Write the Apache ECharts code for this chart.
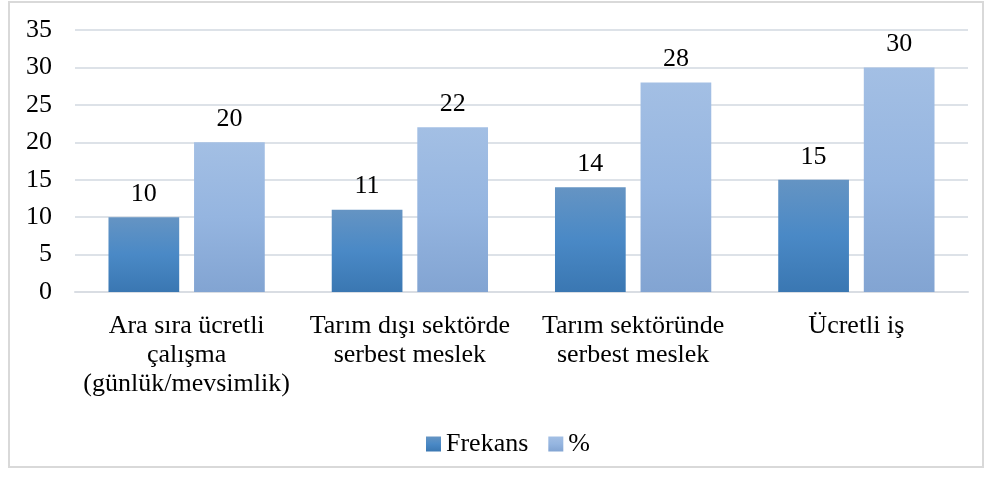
<!DOCTYPE html>
<html>
<head>
<meta charset="utf-8">
<script src="https://cdn.jsdelivr.net/npm/echarts@6/dist/echarts.min.js"></script>
<style>
  html, body { margin: 0; padding: 0; background: #fff; }
  #frame { position: absolute; left: 8px; top: 1px; width: 976px; height: 467px; border: 2px solid #d9d9d9; box-sizing: border-box; }
  #chart { position: absolute; left: 0; top: 0; width: 990px; height: 479px; }
</style>
</head>
<body>
<div id="frame"></div>
<div id="chart"></div>
<script>
// kategoriler ve değerler
const categories = ['Ara sıra ücretli\nçalışma\n(günlük/mevsimlik)', 'Tarım dışı sektörde\nserbest meslek', 'Tarım sektöründe\nserbest meslek', 'Ücretli iş'];
const frekans = [10, 11, 14, 15];
const yuzde = [20, 22, 28, 30];
const seriesNames = ['Frekans', '%'];

const font = '"Liberation Serif", "Times New Roman", serif';
const fs = 26;
const chart = echarts.init(document.getElementById('chart'));

const option = {
  animation: false,
  textStyle: { fontFamily: font },
  grid: { left: 75, right: 22, top: 30, bottom: 187 },
  legend: {
    data: seriesNames,
    top: 426,
    left: 421,
    itemWidth: 15,
    itemHeight: 15,
    itemGap: 20,
    icon: 'rect',
    textStyle: { fontFamily: font, fontSize: fs, color: '#000' }
  },
  xAxis: {
    type: 'category',
    data: categories,
    axisLine: { lineStyle: { color: '#d9dde3', width: 2 } },
    axisTick: { show: false },
    axisLabel: { fontFamily: font, fontSize: fs, color: '#000', lineHeight: 29, margin: 20, interval: 0 }
  },
  yAxis: {
    type: 'value',
    min: 0,
    max: 35,
    interval: 5,
    axisLine: { show: false },
    axisTick: { show: false },
    splitLine: { lineStyle: { color: '#dde2e8', width: 2 } },
    axisLabel: { fontFamily: font, fontSize: fs, color: '#000', margin: 23 }
  },
  series: [
    {
      name: seriesNames[0],
      type: 'bar',
      data: frekans,
      barGap: '21%',
      barCategoryGap: '30%',
      itemStyle: {
        color: new echarts.graphic.LinearGradient(0, 0, 0, 1, [
          { offset: 0, color: '#6594c3' },
          { offset: 0.5, color: '#4a89c6' },
          { offset: 1, color: '#3a77b2' }
        ])
      },
      label: { show: true, position: 'top', distance: 10, fontFamily: font, fontSize: fs, color: '#000' }
    },
    {
      name: seriesNames[1],
      type: 'bar',
      data: yuzde,
      itemStyle: {
        color: new echarts.graphic.LinearGradient(0, 0, 0, 1, [
          { offset: 0, color: '#a3bfe4' },
          { offset: 0.5, color: '#95b5e0' },
          { offset: 1, color: '#82a4d2' }
        ])
      },
      label: { show: true, position: 'top', distance: 10, fontFamily: font, fontSize: fs, color: '#000' }
    }
  ]
};
chart.setOption(option);
</script>
</body>
</html>
